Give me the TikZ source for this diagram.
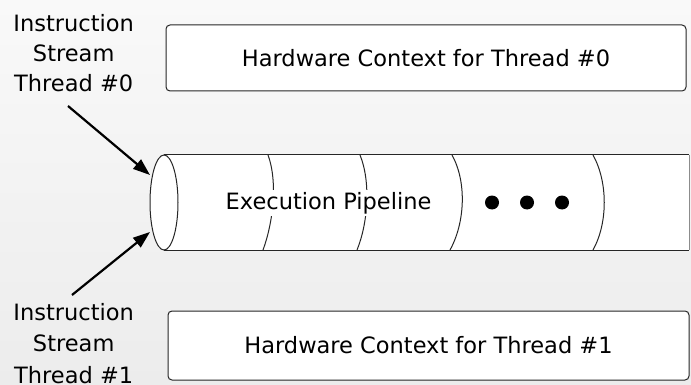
\documentclass[tikz,border=0pt]{standalone}
\usepackage{fontspec}
\setmainfont{DejaVu Sans}
\usetikzlibrary{arrows.meta}

\tikzset{
  label font/.style={font=\fontsize{22.5}{30}\selectfont},
  ctxbox/.style={draw=black!85, line width=1pt, rounded corners=4pt, fill=white,
                 label font, inner sep=0pt},
  sidelabel/.style={label font, align=center, inner sep=0pt, anchor=base},
  pipeline/.style={draw=black!85, line width=1pt},
  feed/.style={line width=2.2pt, -{Triangle[length=17pt,width=12pt]}},
  stagedot/.style={fill=black, draw=none},
}

\begin{document}
\begin{tikzpicture}[x=1pt, y=-1pt]
  % page and soft grey backdrop
  \useasboundingbox (0,0) rectangle (691,385);
  \shade[top color={rgb,255:red,249;green,249;blue,249},
         bottom color={rgb,255:red,236;green,236;blue,236}]
    (0,0) rectangle (691,385);

  % hardware contexts
  \node[ctxbox, minimum width=520pt, minimum height=66pt] (ctx0) at (426,58)
    {Hardware Context for Thread \#0};
  \node[ctxbox, minimum width=521pt, minimum height=69pt] (ctx1) at (428.5,345.5)
    {Hardware Context for Thread \#1};

  % execution pipeline drawn as a cylinder lying on its side
  \coordinate (pipeTL) at (164,155);
  \coordinate (pipeBL) at (164,250);
  \coordinate (pipeTR) at (689,155);
  \coordinate (pipeBR) at (689,250);
  \fill[white] (pipeTL) rectangle (pipeBR);
  \draw[pipeline] (pipeTL) -- (pipeTR);
  \draw[pipeline] (pipeBL) -- (pipeBR);
  \draw[draw=black!45, line width=0.8pt] (pipeTR) -- (pipeBR);
  \draw[pipeline, fill=white] (164,202.5) ellipse [x radius=14, y radius=47.5];

  % stage boundaries
  \draw[pipeline] (268,155) .. controls (278,182) and (273,223) .. (263,250);
  \draw[pipeline] (360,155) .. controls (371,182) and (368,223) .. (357,250);
  \draw[pipeline] (452,155) .. controls (467,182) and (465,223) .. (450,250);
  \draw[pipeline] (593,155) .. controls (608,182) and (608,223) .. (593,250);

  \node[label font, fill=white, inner sep=2pt, anchor=base] (pipe) at (328.5,209)
    {Execution Pipeline};

  \fill[stagedot] (492,202.5) circle (7);
  \fill[stagedot] (527,202.5) circle (7);
  \fill[stagedot] (562,202.5) circle (7);

  % instruction streams (anchored on the baseline of the last line)
  \node[sidelabel] (str0) at (73.7,91.7) {Instruction\\Stream\\Thread \#0};
  \node[sidelabel, font=\fontsize{22.5}{31.3}\selectfont] (str1) at (73.7,383)
    {Instruction\\Stream\\Thread \#1};

  \coordinate (tail0) at (68,106);
  \coordinate (head0) at (150,175);
  \coordinate (tail1) at (72,295);
  \coordinate (head1) at (150,232);
  \draw[feed] (tail0) -- (head0);
  \draw[feed] (tail1) -- (head1);
\end{tikzpicture}
\end{document}
